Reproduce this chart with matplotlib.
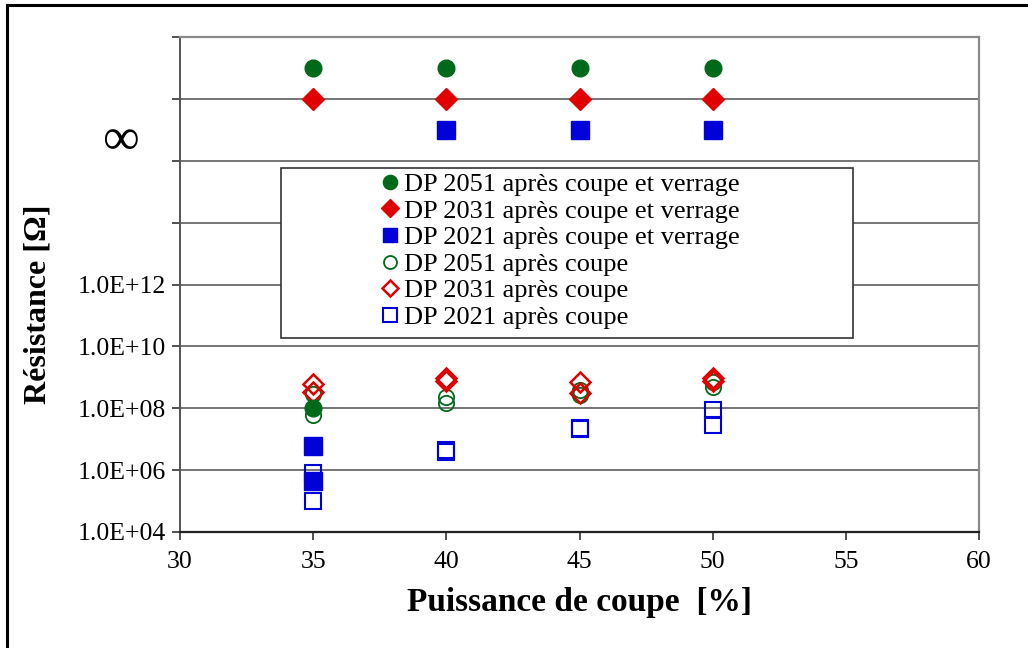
import matplotlib.pyplot as plt
from matplotlib.patches import Rectangle
from matplotlib.lines import Line2D
from matplotlib.transforms import blended_transform_factory

plt.rcParams['font.family'] = ['Liberation Serif', 'DejaVu Serif']
plt.rcParams['mathtext.fontset'] = 'stix'

# valeurs "infinies" placées dans la bande du haut
INF_2051 = 1e19
INF_2031 = 1e18
INF_2021 = 1e17

# après coupe et verrage
x_v2051 = [35, 35, 40, 45, 50]
r_v2051 = [1.0e8, INF_2051, INF_2051, INF_2051, INF_2051]
x_v2031 = [35, 40, 45, 50]
r_v2031 = [INF_2031, INF_2031, INF_2031, INF_2031]
x_v2021 = [35, 35, 40, 45, 50]
r_v2021 = [5.9e6, 4.5e5, INF_2021, INF_2021, INF_2021]

# après coupe
x_c = [35, 35, 40, 40, 45, 45, 50, 50]
r_c2051 = [2.8e8, 5.9e7, 2.3e8, 1.5e8, 4.0e8, 2.6e8, 7.1e8, 4.9e8]
r_c2031 = [6.0e8, 3.3e8, 9.5e8, 7.4e8, 7.1e8, 3.1e8, 9.8e8, 7.6e8]
r_c2021 = [8.0e5, 1.0e5, 4.5e6, 3.9e6, 2.3e7, 2.1e7, 8.7e7, 2.8e7]

labels = ["DP 2051 après coupe et verrage", "DP 2031 après coupe et verrage",
          "DP 2021 après coupe et verrage", "DP 2051 après coupe",
          "DP 2031 après coupe", "DP 2021 après coupe"]

x_ticks = [30, 35, 40, 45, 50, 55, 60]
y_exp = list(range(4, 21, 2))

green, red, blue = '#006a1a', '#e00000', '#0000d8'

fig = plt.figure(figsize=(10.28, 6.48), dpi=100)
ax = fig.add_axes([180/1028, 1 - 532/648, (979 - 180)/1028, (532 - 37)/648])

ax.plot(x_c, r_c2051, 'o', ms=11, mfc='none', mec=green, mew=1.3, label=labels[3])
ax.plot(x_c, r_c2031, 'D', ms=10, mfc='none', mec=red, mew=1.8, label=labels[4])
ax.plot(x_c, r_c2021, 's', ms=12, mfc='none', mec=blue, mew=1.5, label=labels[5])
ax.plot(x_v2051, r_v2051, 'o', ms=12, color=green, label=labels[0])
ax.plot(x_v2031, r_v2031, 'D', ms=11, color=red, label=labels[1])
ax.plot(x_v2021, r_v2021, 's', ms=12.5, color=blue, label=labels[2])

ax.set_yscale('log')
ax.set_ylim(1e4, 1e20)
ax.set_xlim(30, 60)
ax.set_yticks([10.0**e for e in y_exp])
ax.set_yticklabels(["1.0E+%02d" % e if e <= 12 else "" for e in y_exp])
ax.yaxis.set_minor_locator(plt.NullLocator())
ax.set_xticks(x_ticks)
ax.tick_params(axis='both', labelsize=18.5, length=6, width=1.2, color='#333333')
ax.tick_params(axis='y', pad=4)
ax.tick_params(axis='x', pad=8)
ax.grid(True, axis='y', color='#6a6a6a', lw=1.3)
ax.set_axisbelow(True)
for s in ['top', 'right']:
    ax.spines[s].set_color('#8a8a8a')
    ax.spines[s].set_linewidth(1.6)
ax.spines['left'].set_color('#555555')
ax.spines['left'].set_linewidth(1.4)
ax.spines['bottom'].set_color('#222222')
ax.spines['bottom'].set_linewidth(1.6)

trans = blended_transform_factory(ax.transAxes, ax.transData)
ax.text(-0.075, 10**16.62, "∞", transform=trans, fontsize=37,
        ha='center', va='center')

ax.set_xlabel("Puissance de coupe  [%]", fontsize=24, fontweight='bold', labelpad=10)
ax.set_ylabel("Résistance [Ω]", fontsize=23, fontweight='bold', labelpad=18)
ax.yaxis.set_label_coords(-0.16, 0.46)

# légende : cadre tracé à part, contenu centré dedans
fig.patches.append(Rectangle((281/1028, 1 - 338/648), (853 - 281)/1028, (338 - 168)/648,
                             transform=fig.transFigure, fc='white', ec='#333333',
                             lw=1.2, zorder=5))
h, l = ax.get_legend_handles_labels()
order = [3, 4, 5, 0, 1, 2]
leg = fig.legend([h[i] for i in order], [l[i] for i in order],
                 loc='upper left', bbox_to_anchor=(364/1028, 1 - 154/648),
                 frameon=False, fontsize=19, handlelength=0.6, handletextpad=0.2,
                 labelspacing=0.12, markerscale=0.85, borderpad=0.2)
leg.set_zorder(6)

# cadre extérieur
fig.add_artist(Line2D([7/1028, 7/1028], [0, 1 - 5/648], color='black', lw=2.2,
                      transform=fig.transFigure))
fig.add_artist(Line2D([7/1028, 1], [1 - 5/648, 1 - 5/648], color='black', lw=2.2,
                      transform=fig.transFigure))

fig.savefig('out.png', dpi=100)
